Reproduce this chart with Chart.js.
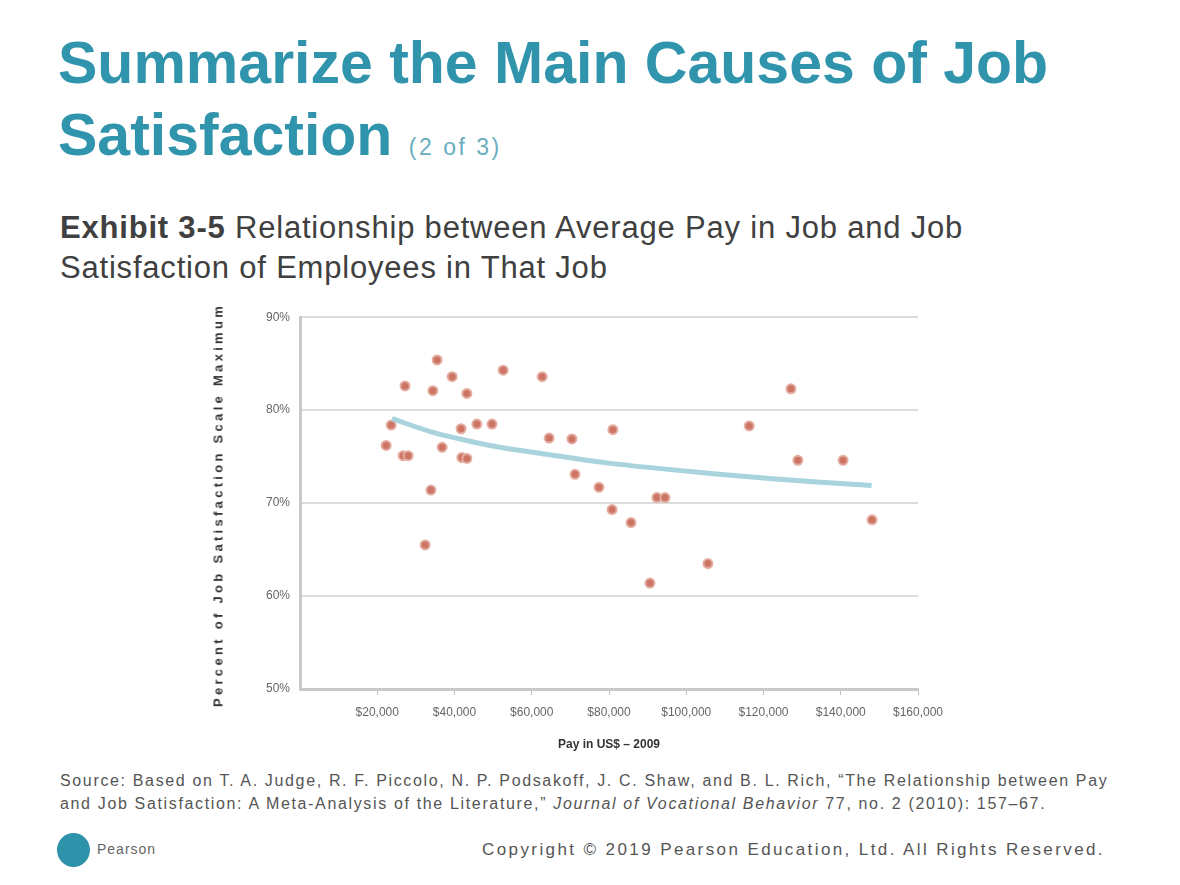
<!DOCTYPE html>
<html>
<head>
<meta charset="utf-8">
<script src="https://cdn.jsdelivr.net/npm/chart.js@4/dist/chart.umd.min.js"></script>
<style>
  body { margin: 0; width: 1180px; height: 885px; background: #fff; position: relative; overflow: hidden; font-family: "Liberation Sans", Arial, sans-serif; }
  .title { position: absolute; left: 58px; top: 27px; color: #3194ad; font-weight: bold; font-size: 59px; line-height: 72px; white-space: nowrap; }
  .title small { font-size: 23px; font-weight: normal; color: #6aaebe; letter-spacing: 2.5px; }
  .sub { position: absolute; left: 60px; top: 208px; color: #404040; font-size: 31px; line-height: 40px; letter-spacing: 0.8px; white-space: nowrap; }
  .sub b { font-weight: bold; }
  #box { position: absolute; left: 200px; top: 300px; width: 780px; height: 465px; }
  .ytitle { position: absolute; left: 218px; top: 505px; transform: translate(-50%, -50%) rotate(-90deg); white-space: nowrap; font-size: 13px; font-weight: bold; color: #333; letter-spacing: 3.3px; }
  .src { position: absolute; left: 60px; top: 769px; width: 1100px; color: #555; font-size: 16px; line-height: 23px; letter-spacing: 1.65px; white-space: nowrap; }
  .logo { position: absolute; left: 57px; top: 833px; width: 33px; height: 34px; border-radius: 50%; background: #2f92ab; }
  .brand { position: absolute; left: 97px; top: 841px; font-size: 14px; color: #666; letter-spacing: 1px; }
  .copy { position: absolute; left: 430px; top: 840px; width: 675px; text-align: right; font-size: 17px; color: #555; letter-spacing: 2.4px; white-space: nowrap; }
</style>
</head>
<body>
<div class="title">Summarize the Main Causes of Job<br>Satisfaction <small>(2 of 3)</small></div>
<div class="sub"><b>Exhibit 3-5</b> Relationship between Average Pay in Job and Job<br>Satisfaction of Employees in That Job</div>
<div id="box"><canvas id="chart"></canvas></div>
<div class="ytitle">Percent of Job Satisfaction Scale Maximum</div>
<div class="src">Source: Based on T. A. Judge, R. F. Piccolo, N. P. Podsakoff, J. C. Shaw, and B. L. Rich, “The Relationship between Pay<br>and Job Satisfaction: A Meta-Analysis of the Literature,” <i>Journal of Vocational Behavior</i> 77, no. 2 (2010): 157–67.</div>
<div class="logo"></div>
<div class="brand">Pearson</div>
<div class="copy">Copyright © 2019 Pearson Education, Ltd. All Rights Reserved.</div>

<script>
// pay in US$ (2009) and satisfaction in % of scale maximum
var payValues = [22300, 23600, 26700, 28000, 27200, 33900, 32400, 34400, 35500, 36800,
                 39400, 41700, 41900, 43200, 43200, 45800, 49700, 52600, 62700, 64500,
                 70400, 71200, 77400, 80800, 81000, 85700, 90600, 92400, 94500, 105600,
                 116300, 127100, 128900, 140600, 148100];
var satisfactionValues = [76.2, 78.4, 75.1, 75.1, 82.6, 71.4, 65.5, 82.1, 85.4, 76.0,
                          83.6, 78.0, 74.9, 74.8, 81.8, 78.5, 78.5, 84.3, 83.6, 77.0,
                          76.9, 73.1, 71.7, 69.3, 77.9, 67.9, 61.4, 70.6, 70.6, 63.5,
                          78.3, 82.3, 74.6, 74.6, 68.2];

// fitted trend curve
var trendPay = [23800, 33700, 41400, 51800, 64700, 80000, 103600, 129400, 148000];
var trendValues = [79.1, 77.7, 76.9, 76.0, 75.2, 74.3, 73.3, 72.4, 71.9];

var xTicks = [20000, 40000, 60000, 80000, 100000, 120000, 140000, 160000];
var yTicks = [50, 60, 70, 80, 90];

var points = payValues.map(function(p, i) { return { x: p, y: satisfactionValues[i] }; });
var trend = trendPay.map(function(p, i) { return { x: p, y: trendValues[i] }; });

new Chart(document.getElementById('chart'), {
    type: 'scatter',
    data: {
        datasets: [{
            label: 'Trend',
            type: 'line',
            data: trend,
            borderColor: '#a9d4dd',
            borderWidth: 5,
            pointRadius: 0,
            cubicInterpolationMode: 'monotone',
            fill: false
        }, {
            label: 'Jobs',
            data: points,
            backgroundColor: '#cc7565',
            borderColor: '#e4aca0',
            borderWidth: 2,
            pointRadius: 4.5
        }]
    },
    options: {
        responsive: true,
        maintainAspectRatio: false,
        animation: false,
        layout: { padding: { top: 13, right: 62, left: 0, bottom: 9 } },
        plugins: { legend: { display: false }, tooltip: { enabled: false } },
        scales: {
            x: {
                type: 'linear',
                min: 0,
                max: 160000,
                afterBuildTicks: function(axis) {
                    axis.ticks = xTicks.map(function(v) { return { value: v }; });
                },
                afterFit: function(axis) { axis.height = 67; },
                grid: { drawOnChartArea: false, color: '#bfbfbf', tickLength: 6, tickColor: '#bfbfbf' },
                border: { color: '#c8c8c8', width: 3 },
                ticks: {
                    color: '#666',
                    font: { size: 12, family: 'Liberation Sans' },
                    maxRotation: 0,
                    padding: 10,
                    callback: function(v) { return '$' + v.toLocaleString('en-US'); }
                },
                title: {
                    display: true,
                    text: 'Pay in US$ – 2009',
                    color: '#333',
                    font: { size: 12, weight: 'bold', family: 'Liberation Sans' },
                    padding: { top: 4, bottom: 4 }
                }
            },
            y: {
                min: 50,
                max: 90,
                afterBuildTicks: function(axis) {
                    axis.ticks = yTicks.map(function(v) { return { value: v }; });
                },
                afterFit: function(axis) { axis.width = 100; },
                grid: { color: '#dcdcdc', lineWidth: 2, drawTicks: false },
                border: { color: '#c8c8c8', width: 3 },
                ticks: {
                    color: '#666',
                    font: { size: 12, family: 'Liberation Sans' },
                    padding: 10,
                    callback: function(v) { return v + '%'; }
                }
            }
        }
    }
});
</script>
</body>
</html>
